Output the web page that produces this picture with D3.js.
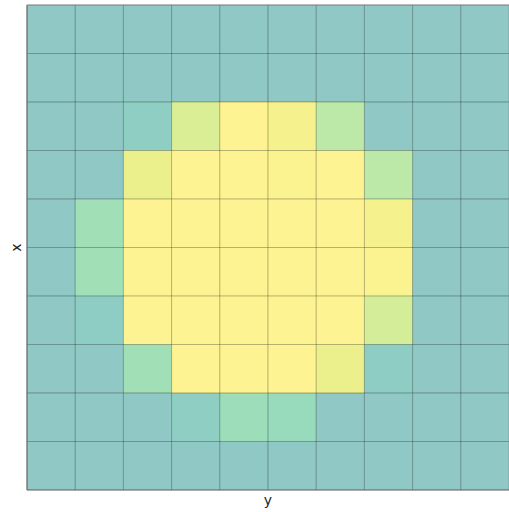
<!DOCTYPE html>
<html>
<head>
<meta charset="utf-8">
<script src="https://cdn.jsdelivr.net/npm/d3@7"></script>
<style>
  html, body { margin: 0; padding: 0; background: #fff; }
  svg { display: block; font-family: "DejaVu Sans", sans-serif; }
</style>
</head>
<body>
<svg id="chart" width="509" height="512"></svg>
<script>
// Row index (top to bottom) and column index (left to right)
const rows = [0, 1, 2, 3, 4, 5, 6, 7, 8, 9];
const cols = [0, 1, 2, 3, 4, 5, 6, 7, 8, 9];
// Colour value (viridis position) for each cell, row by row
const row0 = [0.5, 0.5, 0.5, 0.5, 0.5, 0.5, 0.5, 0.5, 0.5, 0.5];
const row1 = [0.5, 0.5, 0.5, 0.5, 0.5, 0.5, 0.5, 0.5, 0.5, 0.5];
const row2 = [0.5, 0.5, 0.56, 0.89, 1.0, 0.97, 0.8, 0.5, 0.5, 0.5];
const row3 = [0.5, 0.5, 0.94, 1.0, 1.0, 0.99, 1.0, 0.8, 0.5, 0.5];
const row4 = [0.5, 0.7, 1.0, 1.0, 1.0, 1.0, 1.0, 0.97, 0.5, 0.5];
const row5 = [0.5, 0.7, 1.0, 1.0, 1.0, 1.0, 1.0, 0.99, 0.5, 0.5];
const row6 = [0.5, 0.55, 1.0, 1.0, 1.0, 1.0, 1.0, 0.87, 0.5, 0.5];
const row7 = [0.5, 0.5, 0.7, 1.0, 1.0, 1.0, 0.94, 0.55, 0.5, 0.5];
const row8 = [0.5, 0.5, 0.5, 0.56, 0.68, 0.66, 0.5, 0.5, 0.5, 0.5];
const row9 = [0.5, 0.5, 0.5, 0.5, 0.5, 0.5, 0.5, 0.5, 0.5, 0.5];
const grid = [row0, row1, row2, row3, row4, row5, row6, row7, row8, row9];
const xLabel = "y";
const yLabel = "x";

(function () {
  const cells = [];
  grid.forEach((r, i) => r.forEach((v, j) => cells.push({ row: rows[i], col: cols[j], v })));

  const svg = d3.select("#chart");
  const pl = 27, pr = 509, pt = 5, pb = 490;

  const xs = d3.scaleBand().domain(cols).range([pl, pr]).padding(0);
  const ys = d3.scaleBand().domain(rows).range([pt, pb]).padding(0);
  const color = d3.scaleSequential(d3.interpolateViridis).domain([0, 1]);

  svg.append("g").selectAll("rect").data(cells).join("rect")
    .attr("x", d => xs(d.col))
    .attr("y", d => ys(d.row))
    .attr("width", xs.bandwidth())
    .attr("height", ys.bandwidth())
    .attr("fill", d => color(d.v))
    .attr("fill-opacity", 0.5)
    .attr("stroke", "#000")
    .attr("stroke-opacity", 0.17)
    .attr("stroke-width", 1);

  // spines
  const sp = svg.append("g").attr("stroke", "#6e6e6e").attr("stroke-width", 1.2);
  sp.append("line").attr("x1", pl).attr("x2", pl).attr("y1", pt).attr("y2", pb);
  sp.append("line").attr("x1", pl).attr("x2", pr).attr("y1", pb).attr("y2", pb);
  sp.append("line").attr("x1", pl).attr("x2", pr).attr("y1", pt).attr("y2", pt).attr("stroke", "#8a8a8a");

  svg.append("text")
    .attr("x", (pl + pr) / 2).attr("y", 505)
    .attr("text-anchor", "middle")
    .attr("font-size", 14)
    .attr("fill", "#222")
    .text(xLabel);

  svg.append("text")
    .attr("transform", `translate(21,${(pt + pb) / 2}) rotate(-90)`)
    .attr("text-anchor", "middle")
    .attr("font-size", 14)
    .attr("fill", "#222")
    .text(yLabel);
})();
</script>
</body>
</html>
